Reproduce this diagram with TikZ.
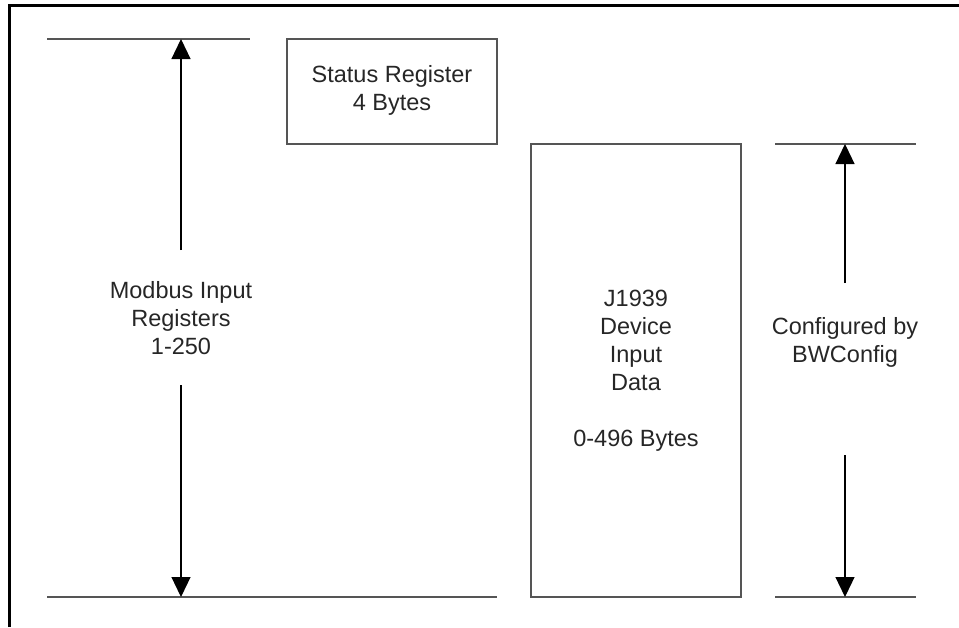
\documentclass[tikz,border=0pt]{standalone}
\usepackage{fontspec}
\setmainfont{Liberation Sans}
\usetikzlibrary{arrows.meta}
\tikzset{
  rule/.style = {draw = linegray, line width = 1.5pt},
  regbox/.style = {draw = linegray, line width = 1.5pt},
  span/.style = {draw = black, line width = 1.2pt, -{Triangle[width = 19pt, length = 20pt]}},
  lbl/.style = {align = center, font = \fontsize{23.5}{28}\selectfont, text = black!85}
}
\definecolor{linegray}{HTML}{555555}
\begin{document}
\begin{tikzpicture}[x = 1pt, y = -1pt]
\useasboundingbox (0,0) rectangle (959,627);
% frame
\draw[line width = 3pt] (9,627) -- (9,5) -- (959,5);
\pgfmathsetmacro\topy{39};
\pgfmathsetmacro\midy{144};
\pgfmathsetmacro\boty{597};
% left scale
\draw[rule] (47,\topy) -- (250,\topy);
\draw[rule] (47,\boty) -- (497,\boty);
\coordinate (lt) at (181,\topy);
\coordinate (lb) at (181,\boty);
\coordinate (lua) at (181,250);
\coordinate (lla) at (181,385);
\node[lbl] (modbus) at (181,318) {Modbus Input\\Registers\\1-250};
\draw[span] (lua) -- (lt);
\draw[span] (lla) -- (lb);
% boxes
\draw[regbox] (287,\topy) rectangle (497,\midy);
\node[lbl] (status) at (392,90) {Status Register\\4 Bytes};
\draw[regbox] (531,\midy) rectangle (741,\boty);
\node[lbl] (j1939) at (636,371) {J1939\\Device\\Input\\Data\\[28pt]0-496 Bytes};
% right scale
\foreach \y in {\midy,\boty} \draw[rule] (775,\y) -- (916,\y);
\coordinate (rt) at (845,\midy);
\coordinate (rb) at (845,\boty);
\coordinate (rua) at (845,283);
\coordinate (rla) at (845,455);
\node[lbl] (bwcfg) at (845,342) {Configured by\\BWConfig};
\draw[span] (rua) -- (rt);
\draw[span] (rla) -- (rb);
\end{tikzpicture}
\end{document}
